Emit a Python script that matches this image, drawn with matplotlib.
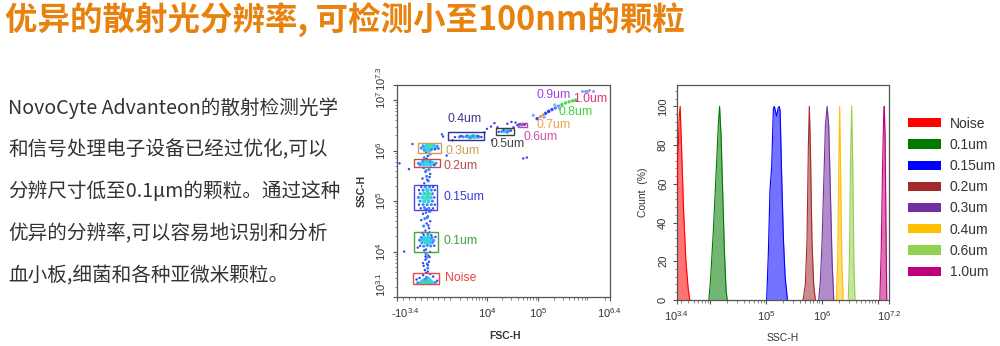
import numpy as np
import matplotlib
matplotlib.use('Agg')
import matplotlib.pyplot as plt
from matplotlib.patches import Rectangle, Patch
from matplotlib.ticker import FixedLocator, NullFormatter, FixedFormatter
from matplotlib.transforms import ScaledTranslation

plt.rcParams['font.family'] = ['Liberation Sans', 'DejaVu Sans']
plt.rcParams['mathtext.fontset'] = 'custom'
plt.rcParams['mathtext.rm'] = 'Liberation Sans'
plt.rcParams['mathtext.it'] = 'Liberation Sans:italic'
plt.rcParams['mathtext.bf'] = 'Liberation Sans:bold'

CJK = ['Noto Sans CJK SC', 'DejaVu Sans']

# ---- text ----
title = '优异的散射光分辨率, 可检测小至100nm的颗粒'
para_lines = [
    'NovoCyte Advanteon的散射检测光学',
    '和信号处理电子设备已经过优化,可以',
    '分辨尺寸低至0.1μm的颗粒。通过这种',
    '优异的分辨率,可以容易地识别和分析',
    '血小板,细菌和各种亚微米颗粒。',
]

# ---- scatter (FSC-H vs SSC-H) events, level = local density ----
noise_fsc = [-750, -500, -250, 0, 250, 500, 750, -400, -150, 100, 350, -250, 0, 250, -100, 150, 0,
             -850, 900, -600, 550, -300, 300, -50, 100]
noise_ssc = [2400, 2380, 2400, 2420, 2400, 2390, 2450, 2520, 2500, 2530, 2550, 2680, 2650, 2700, 2850, 2900, 3100,
             2800, 2650, 3000, 3200, 3400, 3600, 3800, 4000]
noise_lvl = [1, 2, 3, 3, 3, 2, 1, 2, 3, 3, 2, 2, 3, 2, 1, 2, 1, 0, 0, 0, 0, 0, 0, 0, 0]

colA_fsc = [-150, 100, -250, 50, 200, -100, 0, 150, -300, 250, -50, 300, -200, -1900, 100, -100]
colA_ssc = [4300, 4700, 5200, 5700, 6300, 6900, 7500, 8300, 5900, 7800, 9000, 9800, 10500, 10000, 5400, 8000]
colA_lvl = [0, 1, 0, 1, 0, 0, 1, 0, 0, 0, 1, 0, 0, 0, 0, 0]

p01_fsc = [-550, -250, 50, 350, 650, -400, -100, 200, 500, -600, -300, 0, 300, 600, -450, -150, 150, 450,
           -250, 100, 400, -750, 750, -50, -350, 250]
p01_ssc = [13000, 12800, 13200, 12900, 13100, 15000, 15200, 14900, 15100, 16800, 17000, 16900, 17100, 16700,
           19000, 18800, 19200, 18900, 21500, 22000, 21000, 12000, 19500, 11000, 23500, 24000]
p01_lvl = [0, 1, 1, 1, 0, 1, 2, 2, 1, 1, 2, 3, 2, 1, 1, 2, 2, 1, 0, 1, 0, 0, 0, 0, 0, 0]

colB_fsc = [-100, 200, -250, 0, 300, -150, 100, -300, 250, 0, -200, 150, -450, 400, 50, -50]
colB_ssc = [26000, 29000, 32000, 36000, 40000, 45000, 50000, 56000, 62000, 69000, 75000, 33000, 42000, 66000,
            47000, 59000]
colB_lvl = [0, 0, 1, 0, 0, 1, 0, 0, 1, 0, 0, 0, 0, 0, 1, 0]

p015_fsc = [-500, -150, 200, 550,
            -650, -300, 50, 400, 700,
            -550, -200, 150, 500,
            -700, -350, 0, 350, 650,
            -550, -200, 150, 500,
            -650, -300, 50, 400, 700,
            -450, -100, 250, 550]
p015_ssc = [72000, 72000, 72000, 72000,
            85000, 85000, 85000, 85000, 85000,
            100000, 100000, 100000, 100000,
            118000, 118000, 118000, 118000, 118000,
            140000, 140000, 140000, 140000,
            165000, 165000, 165000, 165000, 165000,
            190000, 190000, 190000, 190000]
p015_lvl = [0, 1, 1, 0,
            0, 1, 1, 1, 0,
            1, 2, 2, 1,
            1, 2, 3, 2, 0,
            1, 2, 3, 1,
            0, 1, 2, 1, 0,
            0, 1, 1, 0]

colC_fsc = [-200, 150, -350, 0, 300, -100, 200, -250, 50, -50, 250]
colC_ssc = [225000, 250000, 280000, 310000, 345000, 380000, 420000, 455000, 265000, 400000, 300000]
colC_lvl = [0, 1, 0, 1, 0, 0, 1, 0, 0, 1, 0]

p02_fsc = [-700, -400, -100, 200, 500, 800, -550, -250, 50, 350, 650, -300, 0, 300]
p02_ssc = [560000, 570000, 575000, 565000, 570000, 560000, 520000, 525000, 530000, 520000, 515000,
           620000, 630000, 610000]
p02_lvl = [1, 2, 3, 3, 2, 1, 1, 2, 2, 2, 0, 1, 2, 1]

colD_fsc = [-200, 100, 300, -50, 200, 0]
colD_ssc = [720000, 780000, 850000, 920000, 980000, 690000]
colD_lvl = [1, 0, 1, 0, 1, 0]

p03_fsc = [-450, -150, 150, 450, 750, 1000, -300, 0, 300, 600, 900, -200, 100, 400, 700]
p03_ssc = [1120000, 1150000, 1170000, 1160000, 1140000, 1100000, 1240000, 1260000, 1280000, 1250000,
           1220000, 1020000, 1000000, 1040000, 1060000]
p03_lvl = [1, 2, 3, 3, 2, 1, 1, 2, 3, 2, 1, 1, 2, 1, 0]

p04_fsc = [2400, 2900, 3400, 3900, 4400, 5000, 5600, 6300, 7000, 7800, 3100, 4100, 5300, 6600, 4700]
p04_ssc = [1850000, 1870000, 1880000, 1900000, 1880000, 1890000, 1900000, 1880000, 1870000, 1860000,
           1950000, 1970000, 1960000, 1950000, 1800000]
p04_lvl = [0, 1, 1, 1, 2, 2, 3, 2, 1, 0, 0, 1, 1, 0, 1]

p05_fsc = [17000, 19500, 22000, 24500, 27000, 29500, 21000, 25000]
p05_ssc = [2350000, 2380000, 2420000, 2450000, 2480000, 2500000, 2550000, 2320000]
p05_lvl = [0, 1, 2, 2, 1, 0, 0, 1]

p06_fsc = [43000, 46000, 49000, 52000, 55000]
p06_ssc = [3200000, 3250000, 3250000, 3300000, 3280000]
p06_lvl = [0, 1, 1, 1, 0]

stray_fsc = [-2300, -1500, 1400, 1700, -1200, 1300, 2200, 10000, 12000, 14000, 9000, 16000, 33000, 36000,
             39000, 51000, 60000, 12500, 25000, 30000]
stray_ssc = [560000, 430000, 1900000, 800000, 1350000, 2100000, 1600000, 2700000, 3000000, 3500000,
             2300000, 2900000, 2900000, 3600000, 3200000, 700000, 730000, 1600000, 3400000, 3700000]
stray_lvl = [0] * 20

streak_fsc = [95000, 110000, 125000, 140000, 160000, 185000, 215000, 250000, 290000, 340000, 400000,
              470000, 540000, 80000, 130000, 210000, 260000]
streak_ssc = [4300000, 4700000, 5100000, 5500000, 6000000, 6500000, 7000000, 7600000, 8200000, 8800000,
              9300000, 9700000, 10000000, 5000000, 4600000, 8000000, 6900000]
streak_col = ['#3050ff', '#f0a050', '#f09040', '#3050ff', '#2040ff', '#3050ff', '#4080ff', '#40b0e0',
              '#40d070', '#40e040', '#40e040', '#50d050', '#40e040', '#a0a8ff', '#a0a8ff', '#a0a8ff', '#a0a8ff']

p10_fsc = [700000, 800000, 900000, 1000000, 1150000]
p10_ssc = [15200000, 15500000, 15300000, 15600000, 15400000]

level_colors = ['#3344f2', '#3d8cff', '#35d0f0', '#3ee09a']
level_sizes = [3, 5, 9, 12]

# gates: (fsc_lo, fsc_hi, ssc_lo, ssc_hi)
gate_names = ['Noise', '0.1um', '0.15um', '0.2um', '0.3um', '0.4um', '0.5um', '0.6um']
gate_fsc = [(-1150, 1060), (-1060, 980), (-1060, 890), (-1060, 1150), (-720, 1230), (1820, 8850),
            (15200, 34400), (41100, 61700)]
gate_ssc = [(2290, 3800), (9800, 24500), (66000, 210000), (470000, 680000), (890000, 1410000),
            (1620000, 2340000), (2040000, 2820000), (2950000, 3550000)]
gate_colors = ['#e84a4a', '#4aa34a', '#4a4ae0', '#c05050', '#d0a050', '#30308a', '#404040', '#c040a0']

label_names = ['Noise', '0.1um', '0.15um', '0.2um', '0.3um', '0.4um', '0.5um', '0.6um', '0.7um',
               '0.8um', '0.9um', '1.0um']
label_colors = ['#e8403c', '#3aa33a', '#3a3ae0', '#b84a4a', '#c8a050', '#3a3a8a', '#404040', '#d050a8',
                '#f0a050', '#3ed03e', '#a040e8', '#e0307a']
label_pos = [(0.225, 0.09), (0.216, 0.262), (0.216, 0.472), (0.218, 0.618), (0.230, 0.689),
             (0.239, 0.840), (0.437, 0.722), (0.596, 0.755), (0.653, 0.812), (0.760, 0.872),
             (0.653, 0.953), (0.826, 0.934)]

# ---- histogram (SSC-H, log10) ----
hist_names = ['Noise', '0.1um', '0.15um', '0.2um', '0.3um', '0.4um', '0.6um', '1.0um']
hist_colors = ['#ff0000', '#007a00', '#0000ff', '#a52a2a', '#7030a0', '#ffc000', '#92d050', '#c0007a']
hist_x = [
    [3.385, 3.44, 3.457, 3.48, 3.52, 3.56, 3.60, 3.63],
    [3.97, 4.0, 4.05, 4.10, 4.14, 4.163, 4.19, 4.22, 4.25, 4.28, 4.30],
    [5.007, 5.037, 5.067, 5.097, 5.127, 5.145, 5.169, 5.187, 5.211, 5.23, 5.248, 5.278, 5.308, 5.338, 5.38],
    [5.66, 5.70, 5.73, 5.755, 5.772, 5.79, 5.82, 5.85, 5.88],
    [5.94, 5.97, 6.0, 6.03, 6.06, 6.09, 6.12, 6.15, 6.18, 6.21],
    [6.255, 6.28, 6.30, 6.315, 6.33, 6.355, 6.38],
    [6.47, 6.49, 6.51, 6.53, 6.55, 6.57, 6.59],
    [7.035, 7.06, 7.085, 7.105, 7.115, 7.13, 7.145, 7.16],
]
hist_y = [
    [44, 95, 100, 80, 45, 20, 6, 0],
    [0, 10, 35, 65, 90, 100, 85, 55, 25, 5, 0],
    [0, 24, 57, 69, 99, 100, 97, 95, 99, 100, 98, 62, 31, 12, 0],
    [0, 8, 30, 80, 100, 80, 30, 8, 0],
    [0, 10, 30, 60, 90, 100, 90, 55, 20, 0],
    [0, 20, 70, 100, 70, 20, 0],
    [0, 20, 70, 100, 70, 20, 0],
    [0, 25, 70, 95, 100, 85, 40, 0],
]

fig = plt.figure(figsize=(10, 3.46), dpi=100)

fig.text(0.005, 1 - 20 / 346, title, fontsize=23.4, fontweight='bold', color='#E8820E',
         family=CJK, va='center', ha='left')
for i, line in enumerate(para_lines):
    fig.text(0.008, 1 - (108 + 42 * i) / 346, line, fontsize=14.1, color='#333333',
             family=CJK, va='center', ha='left')

tick_kw = dict(labelsize=8, labelcolor='#333333', color='#555555', direction='out')

# scatter panel
ax = fig.add_axes([0.397, 0.1416, 0.213, 0.6127])
ax.set_xscale('symlog', linthresh=10 ** 3.4, linscale=0.52)
ax.set_yscale('log')

clusters = [(noise_fsc, noise_ssc, noise_lvl), (colA_fsc, colA_ssc, colA_lvl), (p01_fsc, p01_ssc, p01_lvl),
            (colB_fsc, colB_ssc, colB_lvl), (p015_fsc, p015_ssc, p015_lvl), (colC_fsc, colC_ssc, colC_lvl),
            (p02_fsc, p02_ssc, p02_lvl), (colD_fsc, colD_ssc, colD_lvl), (p03_fsc, p03_ssc, p03_lvl),
            (p04_fsc, p04_ssc, p04_lvl), (p05_fsc, p05_ssc, p05_lvl), (p06_fsc, p06_ssc, p06_lvl),
            (stray_fsc, stray_ssc, stray_lvl)]
for f, s, lv in clusters:
    ax.scatter(f, s, c=[level_colors[l] for l in lv], s=[level_sizes[l] for l in lv], linewidths=0, zorder=2)
ax.scatter(streak_fsc, streak_ssc, c=streak_col, s=6, linewidths=0, zorder=2)
ax.scatter(p10_fsc, p10_ssc, c='#8090ff', s=4, linewidths=0, zorder=2)

for (f0, f1), (s0, s1), col in zip(gate_fsc, gate_ssc, gate_colors):
    ax.add_patch(Rectangle((f0, s0), f1 - f0, s1 - s0, fill=False, edgecolor=col, lw=1.0, zorder=3))

for name, col, (px, py) in zip(label_names, label_colors, label_pos):
    ax.text(px, py, name, transform=ax.transAxes, color=col, fontsize=8.8, ha='left', va='center')

ax.set_xlim(-10 ** 3.4, 10 ** 6.4)
ax.set_ylim(10 ** 3.1, 10 ** 7.3)
ax.xaxis.set_major_locator(FixedLocator([-10 ** 3.4, 1e4, 1e5, 10 ** 6.4]))
ax.xaxis.set_major_formatter(FixedFormatter(['-$10^{3.4}$', '$10^{4}$', '$10^{5}$', '$10^{6.4}$']))
x_minor = [-2000, -1500, -1000, -500, 0, 500, 1000, 1500, 2000] + \
          [m * 10 ** e for e in (3, 4, 5) for m in range(2, 10) if m * 10 ** e > 2600] + [2e6]
ax.xaxis.set_minor_locator(FixedLocator(x_minor))
ax.xaxis.set_minor_formatter(NullFormatter())
ax.yaxis.set_major_locator(FixedLocator([10 ** 3.1, 1e4, 1e5, 1e6, 1e7, 10 ** 7.3]))
ax.yaxis.set_major_formatter(FixedFormatter(['$10^{3.1}$', '$10^{4}$', '$10^{5}$', '$10^{6}$',
                                             '$10^{7}$', '$10^{7.3}$']))
y_minor = [m * 10 ** e for e in (3, 4, 5, 6, 7) for m in range(2, 10) if 10 ** 3.1 < m * 10 ** e < 10 ** 7.3]
ax.yaxis.set_minor_locator(FixedLocator(y_minor))
ax.yaxis.set_minor_formatter(NullFormatter())
ax.tick_params(which='major', length=3, width=0.8, **tick_kw)
ax.tick_params(which='minor', length=1.8, width=0.5, color='#555555', direction='out')
ax.tick_params(axis='y', labelrotation=90)
ylabs = ax.get_yticklabels()
for t in ylabs:
    t.set_va('center')
ylabs[0].set_va('bottom')
ylabs[-1].set_transform(ylabs[-1].get_transform() + ScaledTranslation(0, 5 / 72, fig.dpi_scale_trans))
xlabs = ax.get_xticklabels()
xlabs[0].set_transform(xlabs[0].get_transform() + ScaledTranslation(6 / 72, 0, fig.dpi_scale_trans))
for sp in ax.spines.values():
    sp.set_color('#555555')
    sp.set_linewidth(0.9)
ax.set_xlabel('FSC-H', fontsize=7.5, fontweight='bold', color='#333333')
ax.set_ylabel('SSC-H', fontsize=7.5, fontweight='bold', color='#333333')
ax.xaxis.set_label_coords(0.507, -0.16)
ax.yaxis.set_label_coords(-0.141, 0.5)

# histogram panel
hx = fig.add_axes([0.677, 0.133, 0.212, 0.621])
hx.set_xscale('log')
for xs, ys, col in zip(hist_x, hist_y, hist_colors):
    xv = 10 ** np.array(xs)
    hx.fill_between(xv, ys, 0, color=col, alpha=0.55, lw=0, zorder=2)
    hx.plot(xv, ys, color=col, lw=0.8, zorder=3)
hx.set_xlim(10 ** 3.4, 10 ** 7.2)
hx.set_ylim(0, 111)
hx.xaxis.set_major_locator(FixedLocator([10 ** 3.4, 1e4, 1e5, 1e6, 1e7, 10 ** 7.2]))
hx.xaxis.set_major_formatter(FixedFormatter(['$10^{3.4}$', '', '$10^{5}$', '$10^{6}$', '', '$10^{7.2}$']))
hx_minor = [m * 10 ** e for e in (3, 4, 5, 6, 7) for m in range(2, 10) if 10 ** 3.4 < m * 10 ** e < 10 ** 7.2]
hx.xaxis.set_minor_locator(FixedLocator(hx_minor))
hx.xaxis.set_minor_formatter(NullFormatter())
hx.yaxis.set_major_locator(FixedLocator([0, 20, 40, 60, 80, 100]))
hx.yaxis.set_minor_locator(FixedLocator([v for v in range(0, 109, 4) if v % 20]))
hx.tick_params(which='major', length=3, width=0.8, **tick_kw)
hx.tick_params(which='minor', length=1.8, width=0.5, color='#555555', direction='out')
hx.tick_params(axis='y', labelrotation=90)
for t in hx.get_yticklabels():
    t.set_va('center')
for sp in hx.spines.values():
    sp.set_color('#555555')
    sp.set_linewidth(0.9)
hx.set_xlabel('SSC-H', fontsize=7.5, color='#333333')
hx.set_ylabel('Count  (%)', fontsize=7.5, color='#333333')
hx.xaxis.set_label_coords(0.5, -0.153)
hx.yaxis.set_label_coords(-0.137, 0.5)

handles = [Patch(facecolor=c, edgecolor='none') for c in hist_colors]
hx.legend(handles, hist_names, loc='upper left', bbox_to_anchor=(0.908, 0.663),
          bbox_transform=fig.transFigure, frameon=False, fontsize=10, handlelength=2.4,
          handleheight=0.65, handletextpad=0.6, labelspacing=0.52, borderaxespad=0, borderpad=0,
          labelcolor='#333333')

fig.savefig('out.png', dpi=100)
